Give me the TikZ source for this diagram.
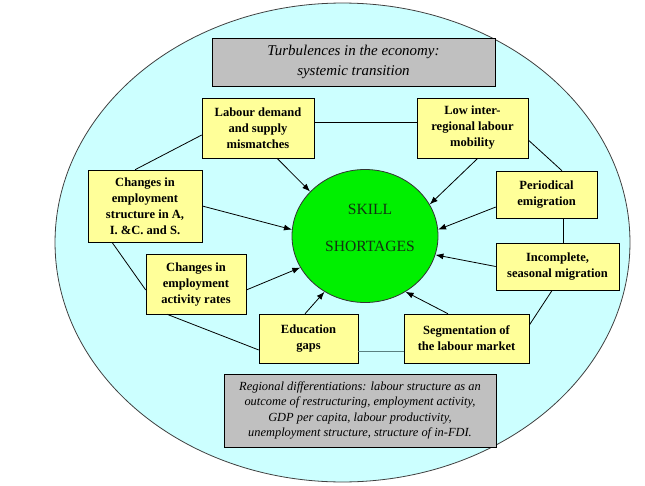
\documentclass[tikz,border=0pt]{standalone}
\usepackage{fontspec}
\setmainfont{Liberation Serif}
\usetikzlibrary{shapes.geometric,arrows.meta}
\definecolor{ovalcyan}{HTML}{CCFFFF}
\definecolor{boxyellow}{HTML}{FFFF99}
\definecolor{boxgrey}{HTML}{C0C0C0}
\definecolor{skillgreen}{HTML}{00F000}
\definecolor{skilltext}{HTML}{123212}
\definecolor{ringteal}{HTML}{5A8080}
\begin{document}
\begin{tikzpicture}[x=0.75pt,y=-0.75pt,
    factor/.style={draw,fill=boxyellow,align=center,inner sep=1pt,
      font=\fontsize{9.4}{12}\selectfont\bfseries},
    context/.style={draw,fill=boxgrey,align=center,inner sep=1pt,
      font=\fontsize{11.2}{15}\selectfont\itshape},
    link/.style={line width=0.6pt},
    cause/.style={-{Latex[length=6pt,width=4.5pt]},line width=0.6pt}]
    \useasboundingbox (0,0) rectangle (645,485);
    \draw[fill=ovalcyan,draw=black!75,line width=0.6pt] (342.5,242.5) ellipse [x radius=215.6pt,y radius=179.6pt];
    \node[context,minimum width=212.25pt,minimum height=36pt] (turb) at (353.5,62) {Turbulences in the economy:\\systemic transition};
    \node[context,minimum width=204pt,minimum height=54.75pt,font=\fontsize{9.3}{11.6}\selectfont\itshape] (regio) at (360,410.5)
      {Regional differentiations: labour structure as an\\outcome of restructuring, employment activity,\\GDP per capita, labour productivity,\\unemployment structure, structure of in-FDI.};
    \node[ellipse,draw=black!80,fill=skillgreen,minimum width=109.5pt,minimum height=99.75pt,line width=0.6pt] (sk) at (365,236) {};
    \node[align=center,text=skilltext,font=\fontsize{11.7}{14}\selectfont] (sktext) at (370,228) {SKILL\\[13.75pt]SHORTAGES};
    \node[factor,minimum width=84pt,minimum height=45pt] (ld) at (258,128) {Labour demand\\and supply\\mismatches};
    \node[factor,minimum width=83.25pt,minimum height=45pt] (lm) at (472.5,128) {Low inter-\\regional labour\\mobility};
    \node[factor,minimum width=75.75pt,minimum height=35.25pt] (pe) at (546.5,194.5) {Periodical\\emigration};
    \node[factor,minimum width=92.25pt,minimum height=35.25pt] (im) at (557.5,266.5) {Incomplete,\\seasonal migration};
    \node[factor,minimum width=93.75pt,minimum height=36.75pt] (sg) at (466.5,338.5) {Segmentation of\\the labour market};
    \node[factor,minimum width=74.25pt,minimum height=36.75pt] (eg) at (308.5,338.5) {Education\\gaps};
    \node[factor,minimum width=75pt,minimum height=45pt] (ar) at (196,284) {Changes in\\employment\\activity rates};
    \node[factor,minimum width=85.5pt,minimum height=54pt] (es) at (145,206) {Changes in\\employment\\structure in A,\\I. \&C. and S.};
    \draw[link] ([yshift=4.5pt]ld.east) -- ([yshift=4.5pt]lm.west);
    \draw[link] ([yshift=-9pt]lm.east) -- ([xshift=11.6pt]pe.north);
    \draw[link] ([xshift=12.4pt]pe.south) -- ([xshift=12.4pt]pe.south |- im.north);
    \draw[link] ([xshift=-4pt]im.south) -- ([yshift=10pt]sg.east);
    \draw[link,ringteal] ([yshift=-9.4pt]sg.west) -- ([yshift=-9.4pt]eg.east);
    \draw[link] ([yshift=-8.6pt]eg.west) -- ([xshift=-21.75pt]ar.south);
    \draw[link] ([yshift=-4.5pt]ar.west) -- ([xshift=-24.75pt]es.south);
    \draw[link] ([xshift=-7.5pt]es.north) -- ([yshift=-5.25pt]ld.west);
    \draw[cause] ([xshift=14.25pt]ld.south) -- (sk.141);
    \draw[cause] ([xshift=4pt]lm.south) -- (sk.26);
    \draw[cause] ([yshift=-9.4pt]pe.west) -- (sk.5);
    \draw[cause] (im.west) -- (sk.-15);
    \draw[cause] ([xshift=-13.9pt]sg.north) -- (sk.-54);
    \draw[cause] ([xshift=-2.6pt]eg.north) -- (sk.234);
    \draw[cause] ([yshift=-4.5pt]ar.east) -- (sk.206);
    \draw[cause] (es.east) -- (sk.175);
\end{tikzpicture}
\end{document}
